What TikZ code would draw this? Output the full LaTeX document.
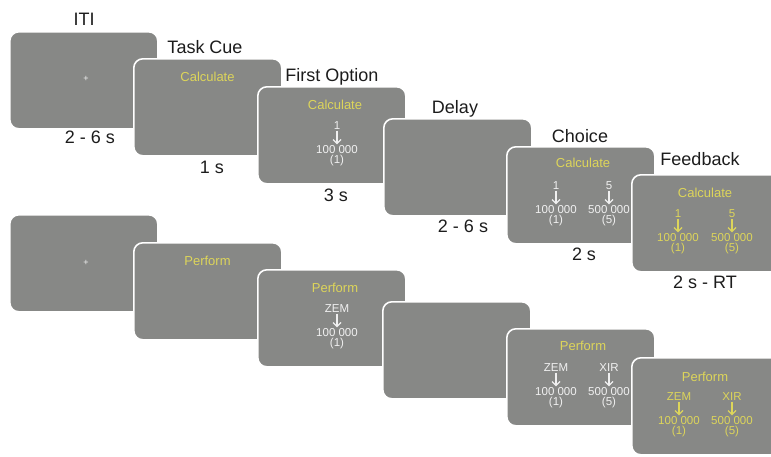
\documentclass[tikz,border=0pt]{standalone}
\usepackage{fontspec}
\setmainfont{Liberation Sans}
\usetikzlibrary{arrows.meta}

\definecolor{screengray}{HTML}{878886}
\definecolor{cueyellow}{HTML}{DDD55A}
\definecolor{numwhite}{HTML}{F0F0F0}
\definecolor{labelink}{HTML}{1C1C1C}

\tikzset{
  screen/.style={draw=white, line width=1.6pt, fill=screengray, rounded corners=9pt,
    minimum width=148pt, minimum height=97pt, inner sep=0pt, anchor=north west},
  phase/.style={font=\fontsize{18}{18}\selectfont, text=labelink, anchor=base, inner sep=0pt},
  cue/.style={font=\fontsize{13}{13}\selectfont, text=cueyellow, anchor=base, inner sep=0pt},
  opt/.style={font=\fontsize{11.5}{11.5}\selectfont, text=numwhite, anchor=base, inner sep=0pt},
  optfb/.style={opt, text=cueyellow},
  link/.style={line width=1.1pt, -{Straight Barb[length=4pt,width=8pt,line width=1.1pt]},
    shorten <=1.5pt, shorten >=0.5pt},
  fix/.style={font=\fontsize{9}{9}\selectfont, text=numwhite, inner sep=0pt},
}

% one option column: prefix, x, option style, arrow colour, symbol, amount, points
\newcommand\optcolumn[7]{%
  \node[#3] (#1s) at (#2,-43) {#5};
  \node[#3] (#1a) at (#2,-67) {#6};
  \node[#3] (#1p) at (#2,-77.5) {#7};
  \draw[link,#4] (#1s.south) -- (#1a.north);
}

\begin{document}
\begin{tikzpicture}[x=1pt,y=1pt]
\useasboundingbox (0,0) rectangle (771,-456);
\clip (0,0) rectangle (771,-456);

% ---------- Calculate trial (top row) ----------
\node[screen] (t1) at (9,-31) {};
\begin{scope}[shift={(9,-31)}]
  \node[fix] (t1fix) at (77,-48) {+};
\end{scope}

\node[screen] (t2) at (133,-58) {};
\begin{scope}[shift={(133,-58)}]
  \node[cue] (t2cue) at (74.5,-23) {Calculate};
\end{scope}

\node[screen] (t3) at (257,-86) {};
\begin{scope}[shift={(257,-86)}]
  \node[cue] (t3cue) at (78,-23.5) {Calculate};
  \optcolumn{t3o}{80}{opt}{numwhite}{1}{100 000}{(1)}
\end{scope}

\node[screen] (t4) at (383,-118) {};

\node[screen] (t5) at (506,-146) {};
\begin{scope}[shift={(506,-146)}]
  \node[cue] (t5cue) at (77,-21.5) {Calculate};
  \optcolumn{t5o}{50}{opt}{numwhite}{1}{100 000}{(1)}
  \optcolumn{t5p}{103}{opt}{numwhite}{5}{500 000}{(5)}
\end{scope}

\node[screen] (t6) at (631,-174) {};
\begin{scope}[shift={(631,-174)}]
  \node[cue] (t6cue) at (74,-23.5) {Calculate};
  \optcolumn{t6o}{47}{optfb}{cueyellow}{1}{100 000}{(1)}
  \optcolumn{t6p}{101}{optfb}{cueyellow}{5}{500 000}{(5)}
\end{scope}

% phase names
\node[phase] (nITI)   at (84,-25)  {ITI};
\node[phase] (nCue)   at (205,-53) {Task Cue};
\node[phase] (nFirst) at (332,-81) {First Option};
\node[phase] (nDelay) at (455,-113) {Delay};
\node[phase] (nChoice) at (580,-142) {Choice};
\node[phase] (nFeed)  at (700,-165) {Feedback};

% durations
\node[phase] (dITI)    at (90,-143)  {2 - 6 s};
\node[phase] (dCue)    at (212,-173) {1 s};
\node[phase] (dFirst)  at (336,-201) {3 s};
\node[phase] (dDelay)  at (463,-232) {2 - 6 s};
\node[phase] (dChoice) at (584,-260) {2 s};
\node[phase] (dFeed)   at (705,-288) {2 s - RT};

% ---------- Perform trial (bottom row) ----------
\node[screen] (b1) at (9,-214) {};
\begin{scope}[shift={(9,-214)}]
  \node[fix] (b1fix) at (77,-49) {+};
\end{scope}

\node[screen] (b2) at (133,-242) {};
\begin{scope}[shift={(133,-242)}]
  \node[cue] (b2cue) at (74.5,-23.5) {Perform};
\end{scope}

\node[screen] (b3) at (257,-269) {};
\begin{scope}[shift={(257,-269)}]
  \node[cue] (b3cue) at (78,-23.5) {Perform};
  \optcolumn{b3o}{80}{opt}{numwhite}{ZEM}{100 000}{(1)}
\end{scope}

\node[screen] (b4) at (382,-301) {};

\node[screen] (b5) at (506,-328) {};
\begin{scope}[shift={(506,-328)}]
  \node[cue] (b5cue) at (77,-22.5) {Perform};
  \optcolumn{b5o}{50}{opt}{numwhite}{ZEM}{100 000}{(1)}
  \optcolumn{b5p}{103}{opt}{numwhite}{XIR}{500 000}{(5)}
\end{scope}

\node[screen] (b6) at (631,-357) {};
\begin{scope}[shift={(631,-357)}]
  \node[cue] (b6cue) at (74,-24) {Perform};
  \optcolumn{b6o}{48}{optfb}{cueyellow}{ZEM}{100 000}{(1)}
  \optcolumn{b6p}{101}{optfb}{cueyellow}{XIR}{500 000}{(5)}
\end{scope}
\end{tikzpicture}
\end{document}
